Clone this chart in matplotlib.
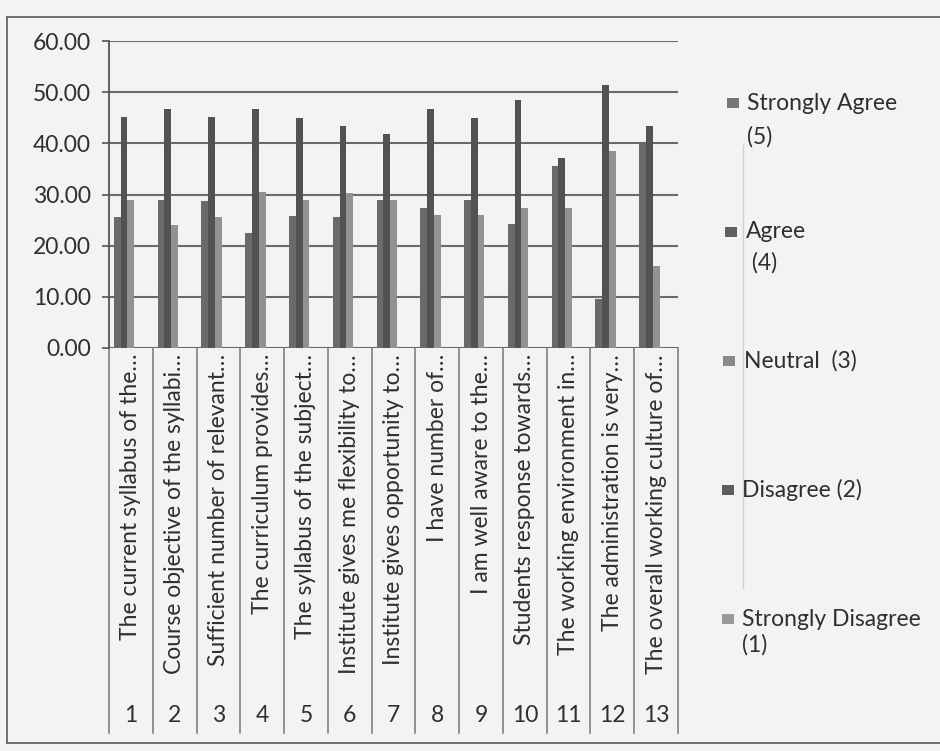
import numpy as np
import matplotlib
matplotlib.use('Agg')
import matplotlib.pyplot as plt
from matplotlib.lines import Line2D
from matplotlib.patches import Rectangle

plt.rcParams['font.family'] = ['Lato', 'DejaVu Sans']

# Survey items (truncated as in the source chart)
items = [
    'The current syllabus of the\u2026',
    'Course objective of the syllabi\u2026',
    'Sufficient number of relevant\u2026',
    'The curriculum provides\u2026',
    'The syllabus of the subject\u2026',
    'Institute gives me flexibility to\u2026',
    'Institute gives opportunity to\u2026',
    'I have number of\u2026',
    'I am well aware to the\u2026',
    'Students response towards\u2026',
    'The working environment in\u2026',
    'The administration is very\u2026',
    'The overall working culture of\u2026',
]
item_no = [str(i) for i in range(1, 14)]

# Percentage of responses per item
strongly_agree = [25.7, 28.9, 28.8, 22.5, 25.8, 25.7, 28.9, 27.4, 29.0, 24.3, 35.5, 9.5, 40.3]
agree = [45.2, 46.7, 45.1, 46.7, 45.0, 43.4, 41.9, 46.7, 45.0, 48.4, 37.1, 51.4, 43.4]
neutral = [29.0, 24.0, 25.7, 30.5, 28.9, 30.3, 28.9, 25.9, 25.9, 27.4, 27.4, 38.5, 16.0]
disagree = [0.0, 0.0, 0.0, 0.0, 0.0, 0.0, 0.0, 0.0, 0.0, 0.0, 0.0, 0.0, 0.0]
strongly_disagree = [0.0, 0.0, 0.0, 0.0, 0.0, 0.0, 0.0, 0.0, 0.0, 0.0, 0.0, 0.0, 0.0]

# legend text, one list of lines per series (wrapped as in the original)
series_names = [['Strongly Agree', '(5)'], ['Agree', ' (4)'], ['Neutral  (3)'],
                ['Disagree (2)'], ['Strongly Disagree', '(1)']]
series_vals = [strongly_agree, agree, neutral, disagree, strongly_disagree]
bar_colors = ['#6a6a6a', '#525252', '#929292', '#5e5e5e', '#9c9c9c']
legend_colors = ['#757575', '#606060', '#8a8a8a', '#5c5c5c', '#9a9a9a']

W, H = 940, 751
bg = '#f3f3f1'
txt = '#2f2f2f'
fs = 16.5

fig = plt.figure(figsize=(W / 100, H / 100), dpi=100, facecolor=bg)

# plot area in pixels
x0, x1 = 109, 678
y_top, y_zero = 41, 348
ax = fig.add_axes([x0 / W, (H - y_zero) / H, (x1 - x0) / W, (y_zero - y_top) / H])
ax.set_facecolor(bg)

n = len(items)
x = np.arange(n)
bw = 0.155
for k, (vals, col) in enumerate(zip(series_vals, bar_colors)):
    ax.bar(x + (k - 2) * bw, vals, width=bw, color=col, linewidth=0, zorder=3)

ax.set_xlim(-0.5, n - 0.5)
ax.set_ylim(0, 60)
ax.set_yticks(np.arange(0, 61, 10))
ax.set_yticklabels([f'{v:.2f}' for v in np.arange(0, 61, 10)], fontsize=fs, color=txt)
ax.tick_params(axis='y', direction='out', length=5, width=1.2, color='#555555', pad=8)
ax.set_xticks([])
ax.grid(axis='y', color='#6a6a6a', linewidth=1.5, zorder=1)
for s in ['top', 'right', 'bottom']:
    ax.spines[s].set_visible(False)
ax.spines['left'].set_color('#555555')
ax.spines['left'].set_linewidth(1.3)

# category label table below the axis
h_ax = y_zero - y_top
tr = ax.get_xaxis_transform()
y_end = -(733 - y_zero) / h_ax
for i in range(n + 1):
    ax.plot([i - 0.5, i - 0.5], [0, y_end], transform=tr, color='#767676',
            linewidth=1.1, clip_on=False)
for i in range(n):
    ax.text(i, -6 / h_ax, items[i], transform=tr, rotation=90, ha='center', va='top',
            fontsize=fs, color=txt)
    ax.text(i, -(716 - y_zero) / h_ax, item_no[i], transform=tr, ha='center', va='center',
            fontsize=fs, color=txt)

# legend, placed as in the original: marker x, text x, y of each text line
leg_rows = [(727, 747, [103, 137]), (725, 746, [232, 263]), (723, 744, [361]),
            (722, 742, [490]), (722, 742, [619, 645])]
for (mx, tx, ys), lines, col in zip(leg_rows, series_names, legend_colors):
    fig.add_artist(Rectangle((mx / W, (H - ys[0] - 5) / H), 12 / W, 10 / H,
                             facecolor=col, edgecolor='none', transform=fig.transFigure))
    for yl, line in zip(ys, lines):
        fig.text(tx / W, (H - yl) / H, line, ha='left', va='center',
                 fontsize=fs, color=txt)

# faint line through the legend area and chart border
fig.add_artist(Line2D([743 / W, 743 / W], [(H - 145) / H, (H - 588) / H], color='#d0d0d0', linewidth=1))
fig.add_artist(Line2D([7 / W, 7 / W], [(H - 17) / H, (H - 743) / H], color='#666666', linewidth=1.3))
fig.add_artist(Line2D([7 / W, 1], [(H - 17) / H, (H - 17) / H], color='#666666', linewidth=1.3))
fig.add_artist(Line2D([7 / W, 1], [(H - 743) / H, (H - 743) / H], color='#666666', linewidth=1.3))

fig.savefig('out.png', dpi=100, facecolor=bg)
